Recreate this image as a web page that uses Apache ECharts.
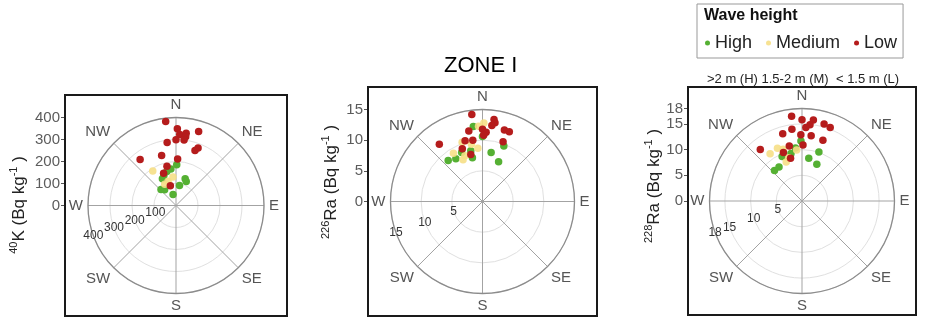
<!DOCTYPE html>
<html>
<head>
<meta charset="utf-8">
<script src="https://cdn.jsdelivr.net/npm/echarts@6/dist/echarts.min.js"></script>
<style>
  html, body { margin: 0; padding: 0; background: #fff; }
  #chart { width: 926px; height: 320px; }
</style>
</head>
<body>
<div id="chart"></div>
<script>
// Compass directions on the angle axis (every 45 degrees, clockwise from N)
const directions = ['N', 'NE', 'E', 'SE', 'S', 'SW', 'W', 'NW'];

// Radial scale ticks for each panel
const k40Ticks = [0, 100, 200, 300, 400];
const ra226Ticks = [0, 5, 10, 15];
const ra228Ticks = [0, 5, 10, 15, 18];

// Samples as [activity (Bq/kg), direction (degrees clockwise from N)]
const k40High = [[185, 1], [168, 352], [160, 345], [147, 338], [136, 333], [128, 19], [119, 23], [92, 10], [100, 317], [88, 324], [52, 345]];
const k40Medium = [[189, 326], [116, 342], [130, 354], [109, 332]];
const k40Low = [[385, 353], [349, 1], [323, 3], [332, 8], [315, 8], [300, 7], [352, 17], [299, 0], [289, 352], [280, 21], [265, 19], [237, 344], [265, 322], [211, 2], [183, 347], [157, 339], [93, 344]];

const ra226High = [[12.3, 353], [10.6, 0], [9.7, 21], [8.1, 10], [7.0, 22], [8.5, 347], [8.7, 337], [8.2, 328], [8.7, 320], [7.3, 347]];
const ra226Medium = [[12.8, 1], [12.3, 357], [10.2, 341], [9.5, 349], [8.7, 355], [9.2, 329], [8.0, 339], [7.5, 335]];
const ra226Low = [[14.3, 353], [13.5, 8], [13.0, 9], [12.5, 7], [11.8, 0], [11.3, 3], [10.8, 1], [11.7, 349], [10.3, 344], [10.1, 351], [12.2, 17], [12.2, 21], [10.3, 19], [11.7, 323], [9.2, 339], [7.9, 346]];

const ra228High = [[11.7, 359], [10.4, 353], [9.5, 347], [9.5, 336], [10.1, 19], [8.4, 9], [7.7, 22], [8.0, 326], [8.0, 318]];
const ra228Medium = [[11.1, 326], [11.3, 335], [10.7, 340], [10.0, 354], [8.2, 338], [8.8, 343]];
const ra228Low = [[16.6, 353], [15.8, 0], [15.9, 8], [14.9, 6], [14.3, 3], [15.6, 16], [15.3, 21], [14.1, 352], [13.6, 344], [12.9, 359], [12.8, 8], [12.5, 19], [10.9, 1], [11.0, 347], [12.9, 321], [10.1, 339], [8.6, 345]];

const groupNames = ['High', 'Medium', 'Low'];
const groupColors = { High: '#55b033', Medium: '#f6df86', Low: '#b51c1c' };

const FONT = '"Liberation Sans", Arial, sans-serif';

// Panel geometry
const panels = [
  { cx: 176, cy: 205.5, r: 88, frame: [65, 95, 222, 221], ticks: k40Ticks, step: 100,
    data: [k40High, k40Medium, k40Low], sup: '40', sym: 'K', title: [19, 205] },
  { cx: 482.5, cy: 201.5, r: 92, frame: [368, 87, 229, 229], ticks: ra226Ticks, step: 5,
    data: [ra226High, ra226Medium, ra226Low], sup: '226', sym: 'Ra', title: [331, 182] },
  { cx: 802, cy: 201, r: 92.5, frame: [688, 87, 228, 228], ticks: ra228Ticks, step: 5,
    data: [ra228High, ra228Medium, ra228Low], sup: '228', sym: 'Ra', title: [654, 186] }
];

const polar = [], angleAxis = [], radiusAxis = [], grid = [], xAxis = [], yAxis = [], series = [], graphic = [];

panels.forEach((p, i) => {
  const max = p.ticks[p.ticks.length - 1];
  const radial = p.ticks.filter(v => v > 0);
  const mainIdx = 2 * i;
  const labelIdx = 2 * i + 1;

  // Main polar: compass spokes, grid circles, samples
  polar.push({ center: [p.cx, p.cy], radius: p.r });
  angleAxis.push({
    polarIndex: mainIdx, type: 'value', min: 0, max: 360, interval: 45,
    startAngle: 90, clockwise: true,
    axisLine: { lineStyle: { color: '#8c8c8c', width: 1.3 } },
    axisTick: { show: false },
    axisLabel: {
      margin: 5, color: '#555', fontSize: 15, fontFamily: FONT,
      formatter: v => (v >= 360 ? '' : directions[Math.round(v / 45)])
    },
    splitLine: { lineStyle: { color: '#a3a3a3', width: 1 } }
  });
  radiusAxis.push({
    polarIndex: mainIdx, type: 'value', min: 0, max: max, interval: p.step,
    axisLine: { show: false }, axisTick: { show: false }, axisLabel: { show: false },
    splitLine: { lineStyle: { color: '#e0e0e0', width: 1 } }
  });

  // Companion polar that carries only the radial scale labels, along a slanted ray
  polar.push({ center: [p.cx, p.cy], radius: p.r });
  angleAxis.push({
    polarIndex: labelIdx, type: 'value', min: 0, max: 360,
    startAngle: 200, show: false
  });
  radiusAxis.push({
    polarIndex: labelIdx, type: 'value', min: 0, max: max, interval: p.step,
    axisLine: { show: false }, axisTick: { show: false }, splitLine: { show: false },
    axisLabel: {
      margin: 0, color: '#333', fontSize: 12, fontFamily: FONT, customValues: radial,
      align: 'center', verticalAlign: 'middle'
    }
  });

  // Linear scale at the left edge of the frame
  grid.push({ left: p.frame[0], top: p.cy - p.r, width: 20, height: p.r });
  xAxis.push({ gridIndex: i, type: 'value', show: false });
  yAxis.push({
    gridIndex: i, type: 'value', min: 0, max: max,
    axisLine: { show: false },
    axisTick: { show: true, length: 4, lineStyle: { color: '#555' }, customValues: p.ticks },
    axisLabel: { color: '#5c5c5c', fontSize: 15, fontFamily: FONT, margin: 5, customValues: p.ticks },
    splitLine: { show: false }
  });

  p.data.forEach((d, g) => {
    series.push({
      name: groupNames[g], type: 'scatter', coordinateSystem: 'polar',
      polarIndex: mainIdx, data: d, symbolSize: 7.5,
      itemStyle: { color: groupColors[groupNames[g]], opacity: g === 1 ? 0.9 : 1 },
      z: 3 + g
    });
  });

  // Panel frame
  graphic.push({
    type: 'rect', shape: { x: p.frame[0], y: p.frame[1], width: p.frame[2], height: p.frame[3] },
    style: { fill: 'none', stroke: '#1a1a1a', lineWidth: 2 }, z: 10
  });

  // Axis title with isotope mass number and unit exponent as superscripts
  graphic.push({
    type: 'text', x: p.title[0], y: p.title[1], rotation: Math.PI / 2,
    style: {
      text: '{s|' + p.sup + '}{m|' + p.sym + ' (Bq kg}{s|-1}{m| )}',
      align: 'center', verticalAlign: 'middle', fill: '#222', font: '17px ' + FONT,
      rich: {
        s: { fontSize: 11, fontFamily: FONT, verticalAlign: 'top', lineHeight: 21, fill: '#222' },
        m: { fontSize: 17, fontFamily: FONT, verticalAlign: 'middle', lineHeight: 21, fill: '#222' }
      }
    }
  });
});

graphic.push({
  type: 'text', x: 704, y: 16,
  style: { text: 'Wave height', fill: '#111', font: 'bold 16px ' + FONT, verticalAlign: 'middle' }
});
graphic.push({
  type: 'text', x: 707, y: 79,
  style: { text: '>2 m (H) 1.5-2 m (M)  < 1.5 m (L)', fill: '#222', font: '13px ' + FONT, verticalAlign: 'middle' }
});

const option = {
  animation: false,
  backgroundColor: '#fff',
  title: {
    text: 'ZONE I', left: 439, top: 50,
    textStyle: { fontSize: 22, fontWeight: 'normal', color: '#000', fontFamily: FONT }
  },
  legend: {
    data: groupNames, left: 697, top: 4,
    padding: [30, 6, 6, 8], borderColor: '#999', borderWidth: 1,
    icon: 'circle', itemWidth: 5, itemHeight: 5, itemGap: 14,
    textStyle: { fontSize: 18, color: '#222', fontFamily: FONT }
  },
  polar, angleAxis, radiusAxis, grid, xAxis, yAxis, series, graphic
};

const chart = echarts.init(document.getElementById('chart'), null, { renderer: 'canvas' });
chart.setOption(option);
</script>
</body>
</html>
